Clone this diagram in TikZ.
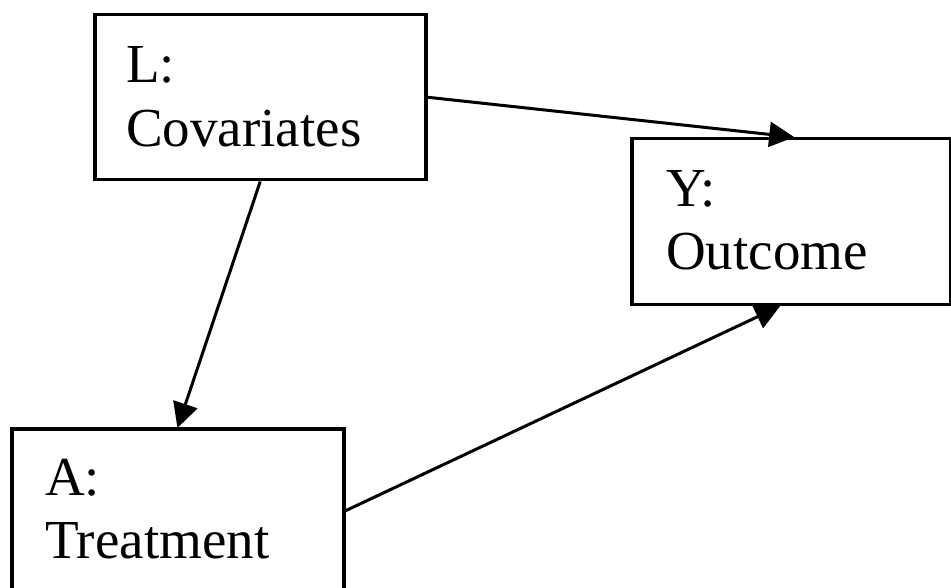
\documentclass[tikz,border=0pt]{standalone}
\usepackage{fontspec}
\setmainfont{Liberation Serif}
\usetikzlibrary{arrows.meta,calc}
\begin{document}
\begin{tikzpicture}[x=1pt,y=-1pt,
  box/.style={draw=black,line width=3.5pt,rectangle,inner sep=0pt,anchor=north west},
  lbl/.style={anchor=base west,inner sep=0pt,font=\fontsize{55}{64}\selectfont},
  arr/.style={line width=3pt,-{Triangle[length=25pt,width=25pt]},shorten >=-1pt}]
\useasboundingbox (0,0) rectangle (951,588);
\node[box,minimum width=331pt,minimum height=165pt] (L) at (93,13) {};
\node[box,minimum width=319pt,minimum height=166pt] (Y) at (630,137) {};
\node[box,minimum width=332pt,minimum height=164pt] (A) at (10,427) {};
\node[lbl] (Lt1) at (126,83) {L:};
\node[lbl] (Lt2) at (126,147) {Covariates};
\node[lbl] (Yt1) at (666,207) {Y:};
\node[lbl] (Yt2) at (666,270) {Outcome};
\node[lbl] (At1) at (45,495) {A:};
\node[lbl] (At2) at (45,558) {Treatment};
\draw[arr] (L.east) -- ([xshift=2pt]Y.north);
\draw[arr] (L.south) -- (A.north);
\draw[arr] (A.east) -- ([xshift=-12pt]Y.south);
\end{tikzpicture}
\end{document}
